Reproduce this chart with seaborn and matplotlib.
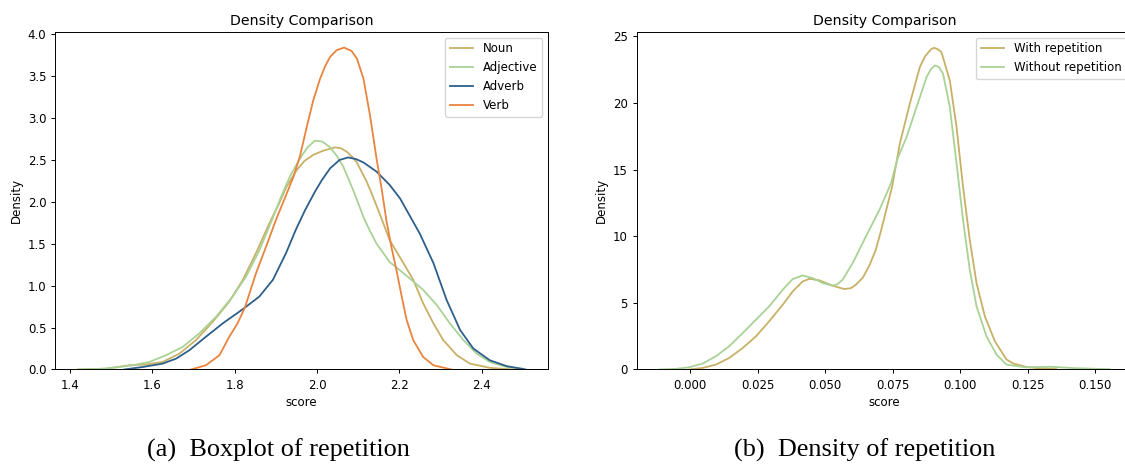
import matplotlib
matplotlib.use("Agg")
import matplotlib.pyplot as plt
import matplotlib.ticker as mticker
import seaborn as sns
import pandas as pd

# ---------------- data ----------------
# Left panel: density curves per part of speech
noun_x = [1.419, 1.487, 1.544, 1.585, 1.625, 1.666, 1.706, 1.747, 1.787, 1.820,
          1.852, 1.884, 1.907, 1.926, 1.951, 1.970, 1.991, 2.015, 2.044, 2.058,
          2.072, 2.085, 2.097, 2.121, 2.137, 2.153, 2.177, 2.210, 2.234, 2.258,
          2.283, 2.307, 2.340, 2.372, 2.420, 2.461, 2.480]
noun_y = [0.00, 0.01, 0.05, 0.06, 0.09, 0.19, 0.35, 0.57, 0.81, 1.07,
          1.39, 1.74, 1.97, 2.18, 2.38, 2.49, 2.56, 2.61, 2.65, 2.64,
          2.60, 2.54, 2.47, 2.24, 2.05, 1.85, 1.54, 1.27, 1.07, 0.79,
          0.55, 0.35, 0.17, 0.07, 0.02, 0.005, 0.00]

adj_x = [1.419, 1.487, 1.552, 1.593, 1.633, 1.674, 1.714, 1.755, 1.795, 1.828,
         1.860, 1.892, 1.912, 1.934, 1.959, 1.977, 1.995, 2.013, 2.032, 2.048,
         2.064, 2.088, 2.113, 2.130, 2.145, 2.177, 2.210, 2.234, 2.258, 2.291,
         2.323, 2.356, 2.388, 2.420, 2.461, 2.501]
adj_y = [0.00, 0.01, 0.05, 0.09, 0.17, 0.27, 0.43, 0.63, 0.87, 1.11,
         1.42, 1.80, 2.05, 2.30, 2.52, 2.65, 2.73, 2.72, 2.65, 2.55,
         2.42, 2.14, 1.82, 1.64, 1.50, 1.28, 1.15, 1.05, 0.95, 0.77,
         0.55, 0.35, 0.19, 0.09, 0.03, 0.01]

adv_x = [1.532, 1.577, 1.625, 1.658, 1.690, 1.730, 1.771, 1.820, 1.860, 1.893,
         1.925, 1.948, 1.971, 1.995, 2.012, 2.032, 2.055, 2.076, 2.095, 2.113,
         2.145, 2.177, 2.202, 2.218, 2.250, 2.283, 2.315, 2.348, 2.380, 2.420,
         2.461, 2.507]
adv_y = [0.00, 0.03, 0.07, 0.13, 0.23, 0.39, 0.55, 0.72, 0.87, 1.07,
         1.39, 1.66, 1.90, 2.12, 2.26, 2.40, 2.50, 2.53, 2.51, 2.47,
         2.36, 2.20, 2.04, 1.90, 1.62, 1.27, 0.83, 0.47, 0.25, 0.11,
         0.04, 0.00]

verb_x = [1.694, 1.730, 1.763, 1.787, 1.807, 1.825, 1.852, 1.876, 1.900, 1.920,
          1.943, 1.959, 1.975, 1.991, 2.007, 2.020, 2.032, 2.048, 2.066, 2.084,
          2.097, 2.113, 2.129, 2.145, 2.157, 2.169, 2.181, 2.193, 2.206, 2.218,
          2.234, 2.258, 2.283, 2.327]
verb_y = [0.00, 0.05, 0.17, 0.39, 0.55, 0.74, 1.15, 1.46, 1.78, 2.02,
          2.30, 2.55, 2.89, 3.21, 3.46, 3.62, 3.73, 3.81, 3.84, 3.80,
          3.71, 3.47, 3.03, 2.51, 2.16, 1.77, 1.46, 1.19, 0.87, 0.59,
          0.35, 0.15, 0.05, 0.00]

pos_labels = ["Noun", "Adjective", "Adverb", "Verb"]
pos_colors = ["#c8b066", "#a9d296", "#2d5f8b", "#e9843f"]

# Right panel: with / without repetition
with_x = [-0.0003, 0.0047, 0.0096, 0.0145, 0.0195, 0.0244, 0.0293, 0.0343, 0.0380,
          0.0417, 0.0442, 0.0479, 0.0528, 0.0571, 0.0595, 0.0614, 0.0640, 0.0665,
          0.0688, 0.0708, 0.0748, 0.0777, 0.0814, 0.0851, 0.0870, 0.0893, 0.0904,
          0.0917, 0.0931, 0.0962, 0.0987, 0.1011, 0.1036, 0.1061, 0.1092, 0.1129,
          0.1172, 0.1197, 0.1250, 0.1300, 0.1357]
with_y = [0.00, 0.12, 0.37, 0.87, 1.62, 2.49, 3.62, 4.86, 5.86,
          6.61, 6.81, 6.69, 6.29, 6.04, 6.10, 6.36, 6.90, 7.85,
          9.00, 10.48, 13.70, 16.97, 19.96, 22.70, 23.50, 24.05, 24.15,
          24.05, 23.83, 21.70, 18.21, 13.72, 9.73, 6.49, 3.99, 2.12,
          0.75, 0.45, 0.17, 0.08, 0.03]

without_x = [-0.0114, -0.0052, -0.0003, 0.0047, 0.0096, 0.0145, 0.0195, 0.0244, 0.0293,
             0.0343, 0.0380, 0.0417, 0.0454, 0.0491, 0.0528, 0.0545, 0.0565, 0.0602,
             0.0651, 0.0701, 0.0744, 0.0768, 0.0802, 0.0839, 0.0876, 0.0892, 0.0907,
             0.0922, 0.0937, 0.0962, 0.0987, 0.1011, 0.1036, 0.1061, 0.1098, 0.1135,
             0.1172, 0.1240, 0.1340, 0.1425, 0.1554]
without_y = [0.00, 0.05, 0.17, 0.45, 1.00, 1.75, 2.74, 3.74, 4.74,
             5.99, 6.79, 7.06, 6.86, 6.49, 6.29, 6.40, 6.74, 7.98,
             9.98, 11.97, 13.97, 15.80, 17.46, 19.71, 21.95, 22.55, 22.83,
             22.70, 22.20, 19.71, 15.47, 11.23, 7.49, 4.74, 2.49, 1.12,
             0.37, 0.17, 0.20, 0.10, 0.02]

rep_labels = ["With repetition", "Without repetition"]
rep_colors = ["#c8b066", "#a9d296"]

captions = ["(a)  Boxplot of repetition", "(b)  Density of repetition"]
title_text = "Density Comparison"

# ---------------- style ----------------
plt.rcParams.update({
    "font.family": ["DejaVu Sans"],
    "font.size": 8.5,
    "axes.titlesize": 10.2,
    "axes.labelsize": 8.5,
    "xtick.labelsize": 8.5,
    "ytick.labelsize": 8.5,
    "legend.fontsize": 8.5,
    "axes.linewidth": 0.7,
    "xtick.major.size": 3.0,
    "ytick.major.size": 3.0,
    "xtick.major.width": 0.7,
    "ytick.major.width": 0.7,
    "axes.titlepad": 5.0,
    "axes.labelpad": 3.4,
    "lines.solid_joinstyle": "round",
})

df1 = pd.concat([
    pd.DataFrame({"score": x, "Density": y, "series": lab})
    for x, y, lab in zip([noun_x, adj_x, adv_x, verb_x],
                         [noun_y, adj_y, adv_y, verb_y], pos_labels)
], ignore_index=True)

df2 = pd.concat([
    pd.DataFrame({"score": x, "Density": y, "series": lab})
    for x, y, lab in zip([with_x, without_x], [with_y, without_y], rep_labels)
], ignore_index=True)

fig = plt.figure(figsize=(11.25, 4.66), dpi=100)
ax1 = fig.add_axes([0.0493, 0.2071, 0.4378, 0.7249])
ax2 = fig.add_axes([0.5662, 0.2071, 0.4400, 0.7249])

sns.lineplot(data=df1, x="score", y="Density", hue="series", hue_order=pos_labels,
             palette=pos_colors, estimator=None, sort=True, linewidth=1.3, ax=ax1)
sns.lineplot(data=df2, x="score", y="Density", hue="series", hue_order=rep_labels,
             palette=rep_colors, estimator=None, sort=True, linewidth=1.3, ax=ax2)

ax1.set_xlim(1.3646, 2.5614)
ax1.set_ylim(0, 4.03)
ax1.set_xticks([1.4, 1.6, 1.8, 2.0, 2.2, 2.4])
ax1.set_yticks([0.0, 0.5, 1.0, 1.5, 2.0, 2.5, 3.0, 3.5, 4.0])

ax2.set_xlim(-0.0197, 0.1637)
ax2.set_ylim(0, 25.36)
ax2.set_xticks([0.0, 0.025, 0.05, 0.075, 0.1, 0.125, 0.15])
ax2.set_yticks([0, 5, 10, 15, 20, 25])
ax2.xaxis.set_major_formatter(mticker.FormatStrFormatter("%.3f"))

for ax in (ax1, ax2):
    ax.set_title(title_text)
    h, l = ax.get_legend_handles_labels()
    ax.legend(h, l, loc="upper right")

fig.text(278 / 1125, 1 - 450 / 466, captions[0], ha="center", va="center",
         fontsize=18.9, family=["Liberation Serif", "DejaVu Serif"])
fig.text(865 / 1125, 1 - 450 / 466, captions[1], ha="center", va="center",
         fontsize=18.9, family=["Liberation Serif", "DejaVu Serif"])

fig.savefig("out.png", dpi=100)
